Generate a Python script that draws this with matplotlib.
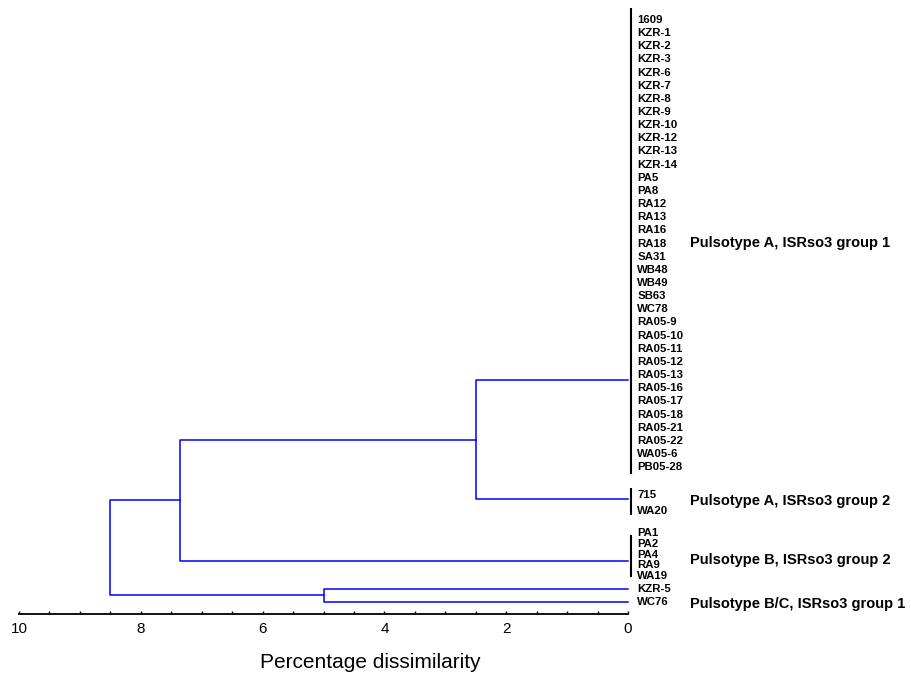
"""Dendrogram of isolates by percentage dissimilarity (pulsotype / ISRso3 groups)."""

import matplotlib.pyplot as plt
from matplotlib.ticker import FixedLocator, MultipleLocator

plt.rcParams["font.family"] = ["Liberation Sans", "DejaVu Sans"]

# ── Data ─────────────────────────────────────────────────────────────────
group_a1 = ["1609", "KZR-1", "KZR-2", "KZR-3", "KZR-6", "KZR-7", "KZR-8",
            "KZR-9", "KZR-10", "KZR-12", "KZR-13", "KZR-14", "PA5", "PA8",
            "RA12", "RA13", "RA16", "RA18", "SA31", "WB48", "WB49", "SB63",
            "WC78", "RA05-9", "RA05-10", "RA05-11", "RA05-12", "RA05-13",
            "RA05-16", "RA05-17", "RA05-18", "RA05-21", "RA05-22", "WA05-6",
            "PB05-28"]
group_a2 = ["715", "WA20"]
group_b = ["PA1", "PA2", "PA4", "RA9", "WA19"]
group_bc = ["KZR-5", "WC76"]

group_names = ["Pulsotype A, ISRso3 group 1",
               "Pulsotype A, ISRso3 group 2",
               "Pulsotype B, ISRso3 group 2",
               "Pulsotype B/C, ISRso3 group 1"]

# merge heights (percentage dissimilarity)
h_a1_a2 = 2.5
h_a_b = 7.35
h_bc = 5.0
h_root = 8.5

x_ticks = [10, 8, 6, 4, 2, 0]

# ── Layout (rows measured from the top of the figure) ───────────────────
BLUE = "#0000FF"
BLACK = "#000000"
W, H = 912, 674
AX_LEFT, AX_RIGHT, AX_BOTTOM = 19, 628, 614

fig = plt.figure(figsize=(W / 100, H / 100), dpi=100)
ax = fig.add_axes([AX_LEFT / W, 1 - AX_BOTTOM / H,
                   (AX_RIGHT - AX_LEFT) / W, AX_BOTTOM / H])
ax.set_xlim(10, 0)
ax.set_ylim(AX_BOTTOM, 0)


def rows(start, step, n):
    return [start + i * step for i in range(n)]


y_a1 = rows(20, 13.15, len(group_a1))
y_a2 = rows(495, 15.7, len(group_a2))
y_b = rows(533, 10.8, len(group_b))
y_bc = rows(588.5, 13.5, len(group_bc))

# where each zero-distance cluster hooks into the tree
attach_a1, attach_a2, attach_b = 380, 499, 561
bar_pad = {"a1": (12, 7), "a2": (7, 4), "b": (-2, 1)}

LABEL_X = -0.15
BAR_X = -0.05


def leaf_labels(names, ys):
    for name, y in zip(names, ys):
        ax.text(LABEL_X, y, name, ha="left", va="center", fontsize=8.2,
                weight="bold", clip_on=False)


def cluster_bar(ys, pad):
    ax.plot([BAR_X, BAR_X], [ys[0] - pad[0], ys[-1] + pad[1]], color=BLACK,
            lw=1.5, clip_on=False, solid_capstyle="butt")


def link(x, y_top, y_bot, x_top=0.0, x_bot=0.0):
    ax.plot([x_top, x, x, x_bot], [y_top, y_top, y_bot, y_bot],
            color=BLUE, lw=1.1, clip_on=False)
    return (y_top + y_bot) / 2


leaf_labels(group_a1, y_a1)
leaf_labels(group_a2, y_a2)
leaf_labels(group_b, y_b)
leaf_labels(group_bc, y_bc)

cluster_bar(y_a1, bar_pad["a1"])
cluster_bar(y_a2, bar_pad["a2"])
cluster_bar(y_b, bar_pad["b"])

y_a = link(h_a1_a2, attach_a1, attach_a2)
y_ab = link(h_a_b, y_a, attach_b, x_top=h_a1_a2)
y_bcn = link(h_bc, y_bc[0], y_bc[1])
link(h_root, y_ab, y_bcn, x_top=h_a_b, x_bot=h_bc)

# group names
for name, y in zip(group_names, [243, 501, 560, 604]):
    ax.text(-1.02, y, name, ha="left", va="center", fontsize=10.5,
            weight="bold", clip_on=False)

# ── Axis ────────────────────────────────────────────────────────────────
for side in ["top", "left", "right"]:
    ax.spines[side].set_visible(False)
ax.spines["bottom"].set_linewidth(1.3)
ax.set_yticks([])
ax.xaxis.set_major_locator(FixedLocator(x_ticks))
ax.xaxis.set_minor_locator(MultipleLocator(0.5))
ax.tick_params(axis="x", which="major", direction="in", length=4.5,
               width=1.0, labelsize=11, pad=6)
ax.tick_params(axis="x", which="minor", direction="in", length=2.5,
               width=1.0)
for t in ax.xaxis.get_major_ticks():
    if t.get_loc() in (0, 10):
        t.tick1line.set_markersize(2.5)
ax.set_xticklabels([str(v) for v in x_ticks])

fig.text(370 / W, 1 - 662 / H, "Percentage dissimilarity", ha="center",
         va="center", fontsize=15)

fig.savefig("out.png", dpi=100, facecolor="white")
